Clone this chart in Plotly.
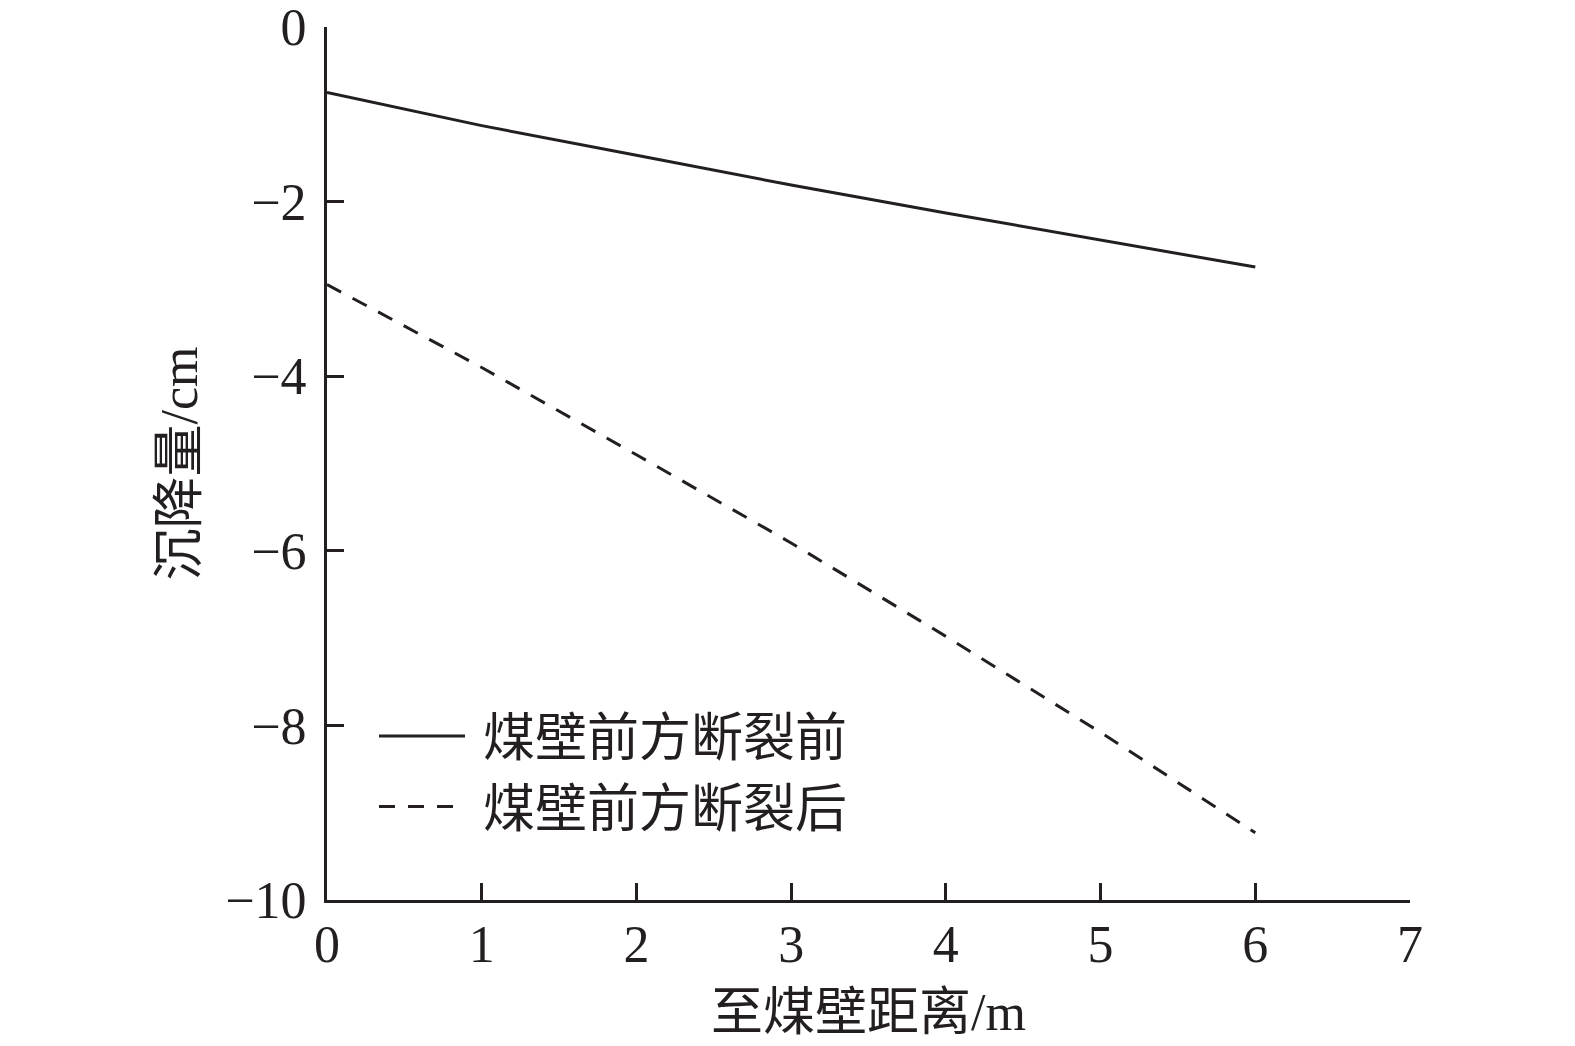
import plotly.graph_objects as go

distance = [0, 1, 2, 3, 4, 5, 6]
before_break = [-0.75, -1.13, -1.47, -1.81, -2.13, -2.44, -2.75]
after_break = [-2.95, -3.90, -4.90, -5.91, -6.98, -8.08, -9.23]
series_names = [" 煤壁前方断裂前", " 煤壁前方断裂后"]
x_ticks = [0, 1, 2, 3, 4, 5, 6, 7]
y_ticks = [0, -2, -4, -6, -8, -10]
y_tick_text = ["0", "\u22122", "\u22124", "\u22126", "\u22128", "\u221210"]

FONT = "Liberation Serif, Times New Roman, Noto Sans CJK SC, serif"
BLACK = "#231f20"

fig = go.Figure()
fig.add_trace(go.Scatter(x=distance, y=before_break, mode="lines", name=series_names[0],
                         line=dict(color=BLACK, width=3, dash="solid")))
fig.add_trace(go.Scatter(x=distance, y=after_break, mode="lines", name=series_names[1],
                         line=dict(color=BLACK, width=3, dash="16px,13px")))

axis_common = dict(showline=True, linecolor=BLACK, linewidth=3, ticks="inside",
                   ticklen=17, tickwidth=3, tickcolor=BLACK, showgrid=False, zeroline=False,
                   tickfont=dict(family=FONT, size=52, color=BLACK), mirror=False,
                   automargin=False, ticklabeloverflow="allow")

fig.update_xaxes(range=[0, 7], tickvals=x_ticks, ticktext=[str(v) for v in x_ticks],
                 title=dict(text="至煤壁距离/m", font=dict(family=FONT, size=52, color=BLACK), standoff=22),
                 ticklabelstandoff=-3, **axis_common)
fig.update_yaxes(range=[-10, 0], tickvals=y_ticks, ticktext=y_tick_text,
                 title=dict(text="沉降量/cm", font=dict(family=FONT, size=52, color=BLACK), standoff=12),
                 ticklabelstandoff=7, **axis_common)

# the page body adds an 8px offset; margins compensate so the plot area lands where the reference has it
fig.update_layout(
    width=1575, height=1046,
    margin=dict(l=319, r=173, t=19, b=154),
    plot_bgcolor="white", paper_bgcolor="white",
    font=dict(family=FONT, color=BLACK),
    legend=dict(x=0.0434, y=0.234, xanchor="left", yanchor="top",
                font=dict(family=FONT, size=52, color=BLACK),
                bgcolor="rgba(0,0,0,0)", itemwidth=86, tracegroupgap=0),
    showlegend=True,
)

fig.write_html("out.html")
